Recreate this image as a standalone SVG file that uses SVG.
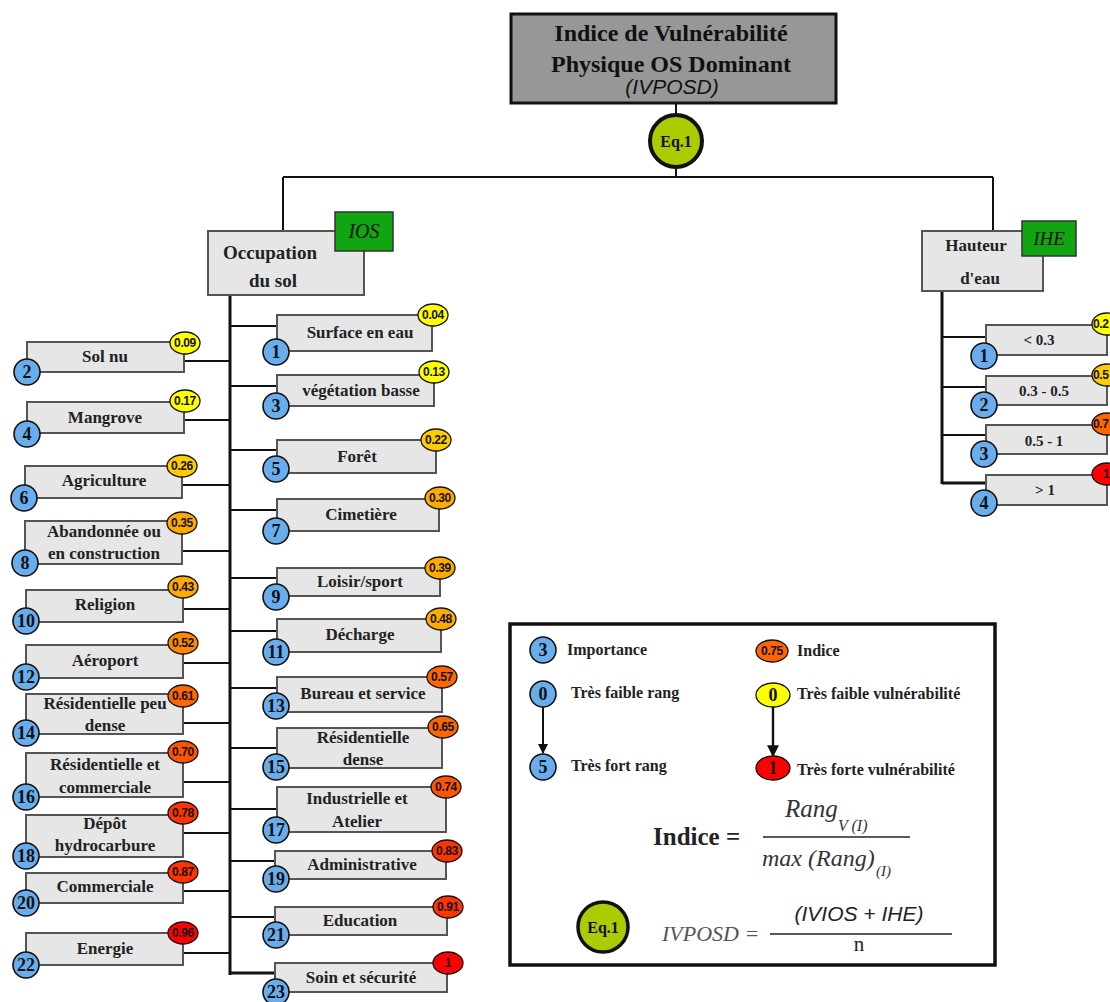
<svg xmlns="http://www.w3.org/2000/svg" width="1110" height="1002" viewBox="0 0 1110 1002">
<defs>
<style>
.box{fill:#e6e6e6;stroke:#555;stroke-width:2}
.num{fill:#6aadec;stroke:#111;stroke-width:1.6}
.bd{stroke:#111;stroke-width:1.3}
.c{stroke:#111;stroke-width:2;fill:none}
.t{stroke:#111;stroke-width:3;fill:none}
.lb{font-family:"Liberation Serif",serif;font-weight:bold;font-size:17px;fill:#222;text-anchor:middle}
.hb{font-family:"Liberation Serif",serif;font-weight:bold;font-size:15px;fill:#222;text-anchor:middle}
.nt{font-family:"Liberation Serif",serif;font-weight:bold;font-size:18px;fill:#111;text-anchor:middle}
.bt{font-family:"Liberation Sans",sans-serif;font-weight:bold;font-size:12px;fill:#111;text-anchor:middle;letter-spacing:-0.4px}
.lg{font-family:"Liberation Serif",serif;font-weight:bold;font-size:16px;fill:#222}
.y1{fill:#ffff00}.y2{fill:#ffcc00}.o1{fill:#ffaa00}.o2{fill:#ff8800}.o3{fill:#ff6600}.o4{fill:#ff5500}.r1{fill:#ff3300}.r2{fill:#ff0000}
.green{fill:#11a511;stroke:#333;stroke-width:1.5}
.math{font-family:"Liberation Serif",serif;font-style:italic;fill:#333}
</style>
<marker id="ah" viewBox="0 0 10 10" refX="9" refY="5" markerWidth="5" markerHeight="6" orient="auto" markerUnits="strokeWidth">
<path d="M0,0 L10,5 L0,10 z" fill="#111"/>
</marker>
</defs>
<rect width="1110" height="1002" fill="#fff"/>

<g id="connectors">
<line class="c" x1="676" y1="103" x2="676" y2="177"/>
<line class="c" x1="283" y1="177" x2="993" y2="177"/>
<line class="c" x1="283" y1="177" x2="283" y2="232"/>
<line class="c" x1="993" y1="177" x2="993" y2="232"/>
<line class="t" x1="230" y1="295" x2="230" y2="975"/>
<line class="t" x1="942" y1="291" x2="942" y2="484"/>
<line class="c" x1="184" y1="361" x2="230" y2="361"/>
<line class="c" x1="184" y1="420" x2="230" y2="420"/>
<line class="c" x1="182" y1="485" x2="230" y2="485"/>
<line class="c" x1="182" y1="551" x2="230" y2="551"/>
<line class="c" x1="183" y1="609" x2="230" y2="609"/>
<line class="c" x1="183" y1="663" x2="230" y2="663"/>
<line class="c" x1="183" y1="723" x2="230" y2="723"/>
<line class="c" x1="183" y1="782" x2="230" y2="782"/>
<line class="c" x1="183" y1="833" x2="230" y2="833"/>
<line class="c" x1="183" y1="891" x2="230" y2="891"/>
<line class="c" x1="183" y1="953" x2="230" y2="953"/>
<line class="c" x1="230" y1="326" x2="277" y2="326"/>
<line class="c" x1="230" y1="386" x2="277" y2="386"/>
<line class="c" x1="230" y1="450" x2="277" y2="450"/>
<line class="c" x1="230" y1="510" x2="277" y2="510"/>
<line class="c" x1="230" y1="578" x2="277" y2="578"/>
<line class="c" x1="230" y1="631" x2="277" y2="631"/>
<line class="c" x1="230" y1="688" x2="277" y2="688"/>
<line class="c" x1="230" y1="748" x2="277" y2="748"/>
<line class="c" x1="230" y1="809" x2="277" y2="809"/>
<line class="c" x1="230" y1="861" x2="275" y2="861"/>
<line class="c" x1="230" y1="917" x2="275" y2="917"/>
<line class="t" x1="230" y1="973" x2="275" y2="973"/>
<line class="c" x1="942" y1="337" x2="986" y2="337"/>
<line class="c" x1="942" y1="387" x2="986" y2="387"/>
<line class="c" x1="942" y1="435" x2="986" y2="435"/>
<line class="t" x1="942" y1="483" x2="986" y2="483"/>
</g>

<g id="root">
<rect x="511" y="14" width="325" height="89" fill="#979797" stroke="#111" stroke-width="3"/>
<text x="671" y="41" font-family="Liberation Serif,serif" font-weight="bold" font-size="24" fill="#111" text-anchor="middle">Indice de Vulnérabilité</text>
<text x="671" y="72" font-family="Liberation Serif,serif" font-weight="bold" font-size="24" fill="#111" text-anchor="middle">Physique OS Dominant</text>
<text x="672" y="94" font-family="Liberation Sans,sans-serif" font-style="italic" font-size="21" fill="#111" text-anchor="middle">(IVPOSD)</text>
</g>

<g id="eq1-top">
<circle cx="676" cy="141" r="26" fill="#aacc00" stroke="#111" stroke-width="4"/>
<text x="676" y="147" font-family="Liberation Serif,serif" font-weight="bold" font-size="16" fill="#111" text-anchor="middle">Eq.1</text>
</g>

<g id="occupation">
<rect x="208" y="231" width="156" height="64" class="box"/>
<rect x="335" y="212" width="58" height="39" class="green"/>
<text x="364" y="238" font-family="Liberation Serif,serif" font-style="italic" font-size="20" fill="#111" text-anchor="middle">IOS</text>
<text x="270" y="259" font-family="Liberation Serif,serif" font-weight="bold" font-size="19" fill="#222" text-anchor="middle">Occupation</text>
<text x="273" y="287" font-family="Liberation Serif,serif" font-weight="bold" font-size="19" fill="#222" text-anchor="middle">du sol</text>
</g>

<g id="hauteur">
<rect x="922" y="231" width="121" height="60" class="box"/>
<rect x="1022" y="221" width="54" height="35" class="green"/>
<text x="1049" y="245" font-family="Liberation Serif,serif" font-style="italic" font-size="19" fill="#111" text-anchor="middle">IHE</text>
<text x="976" y="251" font-family="Liberation Serif,serif" font-weight="bold" font-size="17" fill="#222" text-anchor="middle">Hauteur</text>
<text x="980" y="284" font-family="Liberation Serif,serif" font-weight="bold" font-size="17" fill="#222" text-anchor="middle">d'eau</text>
</g>

<g id="sol-nu"><rect x="27" y="342" width="157" height="30" class="box"/><text x="105" y="362" class="lb">Sol nu</text><circle cx="27" cy="372" r="13" class="num"/><text x="27" y="378" class="nt">2</text><ellipse cx="185" cy="343" rx="15" ry="11" class="bd y1"/><text x="185" y="347" class="bt">0.09</text></g>
<g id="mangrove"><rect x="27" y="402" width="157" height="31" class="box"/><text x="105" y="423" class="lb">Mangrove</text><circle cx="27" cy="434" r="13" class="num"/><text x="27" y="440" class="nt">4</text><ellipse cx="185" cy="401" rx="15" ry="11" class="bd y1"/><text x="185" y="405" class="bt">0.17</text></g>
<g id="agriculture"><rect x="25" y="466" width="157" height="32" class="box"/><text x="104" y="486" class="lb">Agriculture</text><circle cx="24" cy="498" r="13" class="num"/><text x="24" y="504" class="nt">6</text><ellipse cx="182" cy="466" rx="15" ry="11" class="bd y2"/><text x="182" y="470" class="bt">0.26</text></g>
<g id="abandonnee"><rect x="25" y="521" width="157" height="43" class="box"/><text x="104" y="537" class="lb">Abandonnée ou</text><text x="104" y="559" class="lb">en construction</text><circle cx="25" cy="563" r="13" class="num"/><text x="25" y="569" class="nt">8</text><ellipse cx="182" cy="523" rx="15" ry="11" class="bd o1"/><text x="182" y="527" class="bt">0.35</text></g>
<g id="religion"><rect x="26" y="590" width="157" height="32" class="box"/><text x="105" y="610" class="lb">Religion</text><circle cx="26" cy="621" r="13" class="num"/><text x="26" y="627" class="nt">10</text><ellipse cx="183" cy="587" rx="15" ry="11" class="bd o1"/><text x="183" y="591" class="bt">0.43</text></g>
<g id="aeroport"><rect x="26" y="645" width="157" height="33" class="box"/><text x="105" y="666" class="lb">Aéroport</text><circle cx="26" cy="677" r="13" class="num"/><text x="26" y="683" class="nt">12</text><ellipse cx="183" cy="643" rx="15" ry="11" class="bd o2"/><text x="183" y="647" class="bt">0.52</text></g>
<g id="res-peu-dense"><rect x="26" y="694" width="157" height="40" class="box"/><text x="105" y="709" class="lb">Résidentielle peu</text><text x="105" y="731" class="lb">dense</text><circle cx="26" cy="733" r="13" class="num"/><text x="26" y="739" class="nt">14</text><ellipse cx="183" cy="696" rx="15" ry="11" class="bd o3"/><text x="183" y="700" class="bt">0.61</text></g>
<g id="res-commerciale"><rect x="26" y="753" width="157" height="44" class="box"/><text x="105" y="770" class="lb">Résidentielle et</text><text x="105" y="793" class="lb">commerciale</text><circle cx="26" cy="797" r="13" class="num"/><text x="26" y="803" class="nt">16</text><ellipse cx="183" cy="752" rx="15" ry="11" class="bd o4"/><text x="183" y="756" class="bt">0.70</text></g>
<g id="depot"><rect x="26" y="815" width="157" height="42" class="box"/><text x="105" y="829" class="lb">Dépôt</text><text x="105" y="851" class="lb">hydrocarbure</text><circle cx="26" cy="856" r="13" class="num"/><text x="26" y="862" class="nt">18</text><ellipse cx="183" cy="813" rx="15" ry="11" class="bd r1"/><text x="183" y="817" class="bt">0.78</text></g>
<g id="commerciale"><rect x="26" y="873" width="157" height="30" class="box"/><text x="105" y="892" class="lb">Commerciale</text><circle cx="26" cy="903" r="13" class="num"/><text x="26" y="909" class="nt">20</text><ellipse cx="183" cy="872" rx="15" ry="11" class="bd r1"/><text x="183" y="876" class="bt">0.87</text></g>
<g id="energie"><rect x="26" y="933" width="157" height="32" class="box"/><text x="105" y="954" class="lb">Energie</text><circle cx="26" cy="965" r="13" class="num"/><text x="26" y="971" class="nt">22</text><ellipse cx="183" cy="933" rx="15" ry="11" class="bd r2"/><text x="183" y="937" class="bt">0.96</text></g>

<g id="surface-eau"><rect x="277" y="315" width="155" height="36" class="box"/><text x="360" y="338" class="lb">Surface en eau</text><circle cx="276" cy="352" r="13" class="num"/><text x="276" y="358" class="nt">1</text><ellipse cx="433" cy="315" rx="15" ry="11" class="bd y1"/><text x="433" y="319" class="bt">0.04</text></g>
<g id="vegetation"><rect x="277" y="375" width="157" height="31" class="box"/><text x="361" y="396" class="lb">végétation basse</text><circle cx="276" cy="406" r="13" class="num"/><text x="276" y="412" class="nt">3</text><ellipse cx="434" cy="372" rx="15" ry="11" class="bd y1"/><text x="434" y="376" class="bt">0.13</text></g>
<g id="foret"><rect x="277" y="440" width="159" height="33" class="box"/><text x="357" y="462" class="lb">Forêt</text><circle cx="276" cy="469" r="13" class="num"/><text x="276" y="475" class="nt">5</text><ellipse cx="436" cy="440" rx="15" ry="11" class="bd y2"/><text x="436" y="444" class="bt">0.22</text></g>
<g id="cimetiere"><rect x="277" y="499" width="162" height="32" class="box"/><text x="361" y="520" class="lb">Cimetière</text><circle cx="276" cy="531" r="13" class="num"/><text x="276" y="537" class="nt">7</text><ellipse cx="440" cy="498" rx="15" ry="11" class="bd o1"/><text x="440" y="502" class="bt">0.30</text></g>
<g id="loisir"><rect x="277" y="568" width="163" height="28" class="box"/><text x="360" y="587" class="lb">Loisir/sport</text><circle cx="276" cy="597" r="13" class="num"/><text x="276" y="603" class="nt">9</text><ellipse cx="440" cy="568" rx="15" ry="11" class="bd o1"/><text x="440" y="572" class="bt">0.39</text></g>
<g id="decharge"><rect x="277" y="619" width="164" height="33" class="box"/><text x="360" y="640" class="lb">Décharge</text><circle cx="276" cy="652" r="13" class="num"/><text x="276" y="658" class="nt">11</text><ellipse cx="441" cy="619" rx="15" ry="11" class="bd o1"/><text x="441" y="623" class="bt">0.48</text></g>
<g id="bureau"><rect x="277" y="677" width="165" height="35" class="box"/><text x="363" y="699" class="lb">Bureau et service</text><circle cx="276" cy="706" r="13" class="num"/><text x="276" y="712" class="nt">13</text><ellipse cx="442" cy="677" rx="15" ry="11" class="bd o3"/><text x="442" y="681" class="bt">0.57</text></g>
<g id="res-dense"><rect x="277" y="728" width="165" height="40" class="box"/><text x="363" y="743" class="lb">Résidentielle</text><text x="363" y="765" class="lb">dense</text><circle cx="276" cy="767" r="13" class="num"/><text x="276" y="773" class="nt">15</text><ellipse cx="443" cy="727" rx="15" ry="11" class="bd o3"/><text x="443" y="731" class="bt">0.65</text></g>
<g id="industrielle"><rect x="277" y="787" width="169" height="45" class="box"/><text x="357" y="804" class="lb">Industrielle et</text><text x="357" y="827" class="lb">Atelier</text><circle cx="276" cy="830" r="13" class="num"/><text x="276" y="836" class="nt">17</text><ellipse cx="446" cy="787" rx="15" ry="11" class="bd o4"/><text x="446" y="791" class="bt">0.74</text></g>
<g id="administrative"><rect x="275" y="851" width="171" height="28" class="box"/><text x="362" y="870" class="lb">Administrative</text><circle cx="276" cy="879" r="13" class="num"/><text x="276" y="885" class="nt">19</text><ellipse cx="447" cy="851" rx="15" ry="11" class="bd r1"/><text x="447" y="855" class="bt">0.83</text></g>
<g id="education"><rect x="275" y="907" width="172" height="28" class="box"/><text x="360" y="926" class="lb">Education</text><circle cx="276" cy="935" r="13" class="num"/><text x="276" y="941" class="nt">21</text><ellipse cx="448" cy="907" rx="15" ry="11" class="bd r1"/><text x="448" y="911" class="bt">0.91</text></g>
<g id="soin"><rect x="275" y="963" width="172" height="29" class="box"/><text x="361" y="983" class="lb">Soin et sécurité</text><circle cx="276" cy="992" r="13" class="num"/><text x="276" y="998" class="nt">23</text><ellipse cx="448" cy="963" rx="15" ry="11" class="bd r2"/><text x="448" y="967" class="bt">1</text></g>

<g id="h1"><rect x="986" y="325" width="121" height="30" class="box"/><text x="1039" y="345" class="hb">&lt; 0.3</text><circle cx="984" cy="356" r="13" class="num"/><text x="984" y="362" class="nt">1</text><ellipse cx="1107" cy="324" rx="15" ry="11" class="bd y1"/><text x="1093" y="328" class="bt" text-anchor="start" style="text-anchor:start">0.2</text></g>
<g id="h2"><rect x="986" y="376" width="121" height="29" class="box"/><text x="1044" y="396" class="hb">0.3 - 0.5</text><circle cx="984" cy="405" r="13" class="num"/><text x="984" y="411" class="nt">2</text><ellipse cx="1107" cy="375" rx="15" ry="11" class="bd y2"/><text x="1093" y="379" class="bt" style="text-anchor:start">0.5</text></g>
<g id="h3"><rect x="986" y="425" width="121" height="29" class="box"/><text x="1044" y="446" class="hb">0.5 - 1</text><circle cx="984" cy="454" r="13" class="num"/><text x="984" y="460" class="nt">3</text><ellipse cx="1107" cy="424" rx="15" ry="11" class="bd o3"/><text x="1093" y="428" class="bt" style="text-anchor:start">0.7</text></g>
<g id="h4"><rect x="986" y="475" width="121" height="30" class="box"/><text x="1045" y="495" class="hb">&gt; 1</text><circle cx="984" cy="503" r="13" class="num"/><text x="984" y="509" class="nt">4</text><ellipse cx="1107" cy="474" rx="15" ry="11" class="bd r2"/><text x="1103" y="478" class="bt" style="text-anchor:start">1</text></g>

<g id="legend">
<rect x="510" y="624" width="485" height="341" fill="#fff" stroke="#111" stroke-width="3.5"/>
<circle cx="543" cy="650" r="13" class="num"/><text x="543" y="656" class="nt">3</text>
<text x="567" y="655" class="lg">Importance</text>
<ellipse cx="772" cy="651" rx="16" ry="11" class="bd o3"/><text x="772" y="655" class="bt">0.75</text>
<text x="797" y="656" class="lg">Indice</text>
<circle cx="543" cy="694" r="13" class="num"/><text x="543" y="700" class="nt">0</text>
<text x="571" y="698" class="lg">Très faible rang</text>
<line x1="543" y1="707" x2="543" y2="753" stroke="#111" stroke-width="2" marker-end="url(#ah)"/>
<circle cx="543" cy="767" r="13" class="num"/><text x="543" y="773" class="nt">5</text>
<text x="571" y="771" class="lg">Très fort rang</text>
<ellipse cx="773" cy="695" rx="17" ry="12" class="bd y1"/><text x="773" y="701" class="nt">0</text>
<text x="797" y="699" class="lg">Très faible vulnérabilité</text>
<line x1="773" y1="707" x2="773" y2="756" stroke="#111" stroke-width="2.4" marker-end="url(#ah)"/>
<ellipse cx="773" cy="768" rx="17" ry="12" class="bd r2"/><text x="773" y="774" class="nt">1</text>
<text x="797" y="775" class="lg">Très forte vulnérabilité</text>
<text x="653" y="845" font-family="Liberation Serif,serif" font-weight="bold" font-size="25" fill="#222">Indice =</text>
<line x1="763" y1="837" x2="910" y2="837" stroke="#222" stroke-width="1.5"/>
<text x="785" y="817" class="math" font-size="25">Rang</text>
<text x="838" y="831" class="math" font-size="16">V (I)</text>
<text x="762" y="866" class="math" font-size="24">max (Rang)</text>
<text x="876" y="876" class="math" font-size="15">(I)</text>
<circle cx="603" cy="927" r="25" fill="#aacc00" stroke="#111" stroke-width="3.5"/>
<text x="603" y="933" font-family="Liberation Serif,serif" font-weight="bold" font-size="16" fill="#111" text-anchor="middle">Eq.1</text>
<text x="662" y="941" class="math" font-size="22" style="fill:#555">IVPOSD =</text>
<line x1="770" y1="934" x2="952" y2="934" stroke="#222" stroke-width="1.5"/>
<text x="859" y="921" font-family="Liberation Sans,sans-serif" font-style="italic" font-size="21" fill="#222" text-anchor="middle">(IVIOS + IHE)</text>
<text x="859" y="951" font-family="Liberation Serif,serif" font-size="21" fill="#222" text-anchor="middle">n</text>
</g>
</svg>
